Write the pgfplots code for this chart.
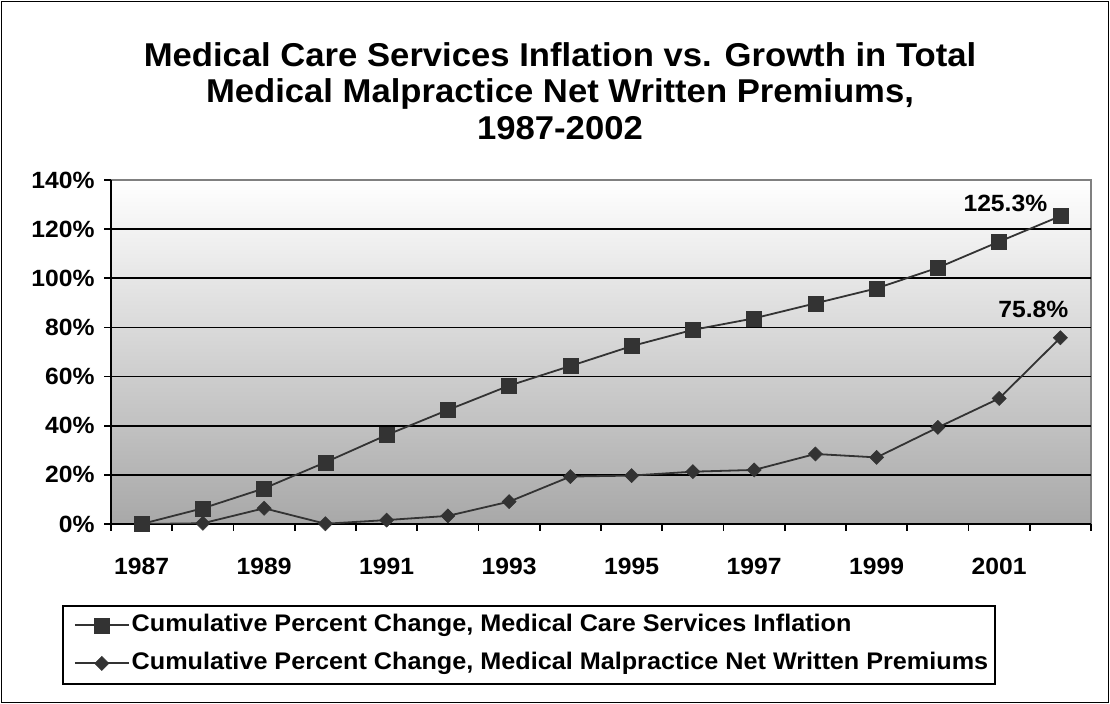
\documentclass[border=0pt]{standalone}
\usepackage{fontspec}
\setmainfont{Liberation Sans}[FakeStretch=1.05]
\usepackage{pgfplots}
\pgfplotsset{compat=1.18}
\definecolor{ser}{HTML}{333333}
\definecolor{bgbot}{HTML}{A8A8A8}
\newcommand{\fs}[1]{\fontsize{#1}{#1}\selectfont\bfseries}
\begin{document}
\begin{tikzpicture}[x=1bp,y=1bp]
\useasboundingbox (0,0) rectangle (1110,704);
\draw[line width=1.8bp] (1.5,1.5) rectangle (1108.5,702.5);
\node[align=center, font=\fontsize{33bp}{36.5bp}\selectfont\bfseries] at (560,613) {Medical Care Services Inflation vs. Growth in Total\\Medical Malpractice Net Written Premiums,\\1987-2002};
\draw[line width=1.8bp, fill=white] (62.7,20) rectangle (995,98.3);
\begin{axis}[
  at={(111bp,180bp)}, anchor=south west,
  scale only axis, width=980bp, height=344bp,
  xmin=-0.5, xmax=15.5, ymin=0, ymax=140,
  axis x line*=bottom, axis y line*=left,
  axis line style={line width=1.8bp, black},
  axis background/.style={top color=white, bottom color=bgbot, draw=gray, line width=1.8bp},
  xtick={-0.5,0.5,...,15.5}, xticklabels={},
  extra x ticks={0,2,...,14},
  extra x tick labels={1987,1989,1991,1993,1995,1997,1999,2001},
  extra x tick style={major tick length=0pt, xticklabel style={yshift=-31bp}},
  ytick={0,20,...,140},
  yticklabels={0\%,20\%,40\%,60\%,80\%,100\%,120\%,140\%},
  yticklabel style={xshift=-6bp},
  extra y ticks={20,40,60,80,100,120}, extra y tick labels={},
  extra y tick style={ymajorgrids=true, major tick length=0pt},
  major grid style={black, line width=1.8bp},
  tick align=outside, major tick length=7bp,
  tick style={black, line width=1.8bp},
  ticklabel style={font=\fs{23.5bp}},
  legend cell align=left,
  legend image code/.code={\draw[mark repeat=2,mark phase=2,#1] plot coordinates {(0bp,0bp) (27bp,0bp) (54bp,0bp)};},
  legend style={at={(axis description cs:-0.0391,-0.2375)}, anchor=north west,
    draw=none, fill=none, font=\fs{24bp}, inner xsep=1bp, inner ysep=0.5bp,
    nodes={inner xsep=2bp, inner ysep=8bp, text height=17bp, text depth=5bp}},
]
\addplot[color=ser, line width=1.8bp, mark=square*, mark size=7.5bp, mark options={solid, line width=0.5bp}] coordinates {
(0,0) (1,6.4) (2,14.5) (3,25.1) (4,36.2) (5,46.4) (6,56.3) (7,64.3)
(8,72.4) (9,79.0) (10,83.7) (11,89.8) (12,95.9) (13,104.3) (14,114.9) (15,125.3)};
\addlegendentry{Cumulative Percent Change, Medical Care Services Inflation}
\addplot[color=ser, line width=1.8bp, mark=square*, mark size=5bp, mark options={solid, rotate=45, line width=0.5bp}] coordinates {
(0,0) (1,0.3) (2,6.4) (3,0.1) (4,1.6) (5,3.3) (6,9.1) (7,19.3)
(8,19.7) (9,21.3) (10,22.0) (11,28.5) (12,27.1) (13,39.3) (14,51.1) (15,75.8)};
\addlegendentry{Cumulative Percent Change, Medical Malpractice Net Written Premiums}
\node[font=\fs{23.5bp}, xshift=-55bp, yshift=13bp] at (axis cs:15,125.3) {125.3\%};
\node[font=\fs{23.5bp}, xshift=-27bp, yshift=28bp] at (axis cs:15,75.8) {75.8\%};
\end{axis}
\end{tikzpicture}
\end{document}
